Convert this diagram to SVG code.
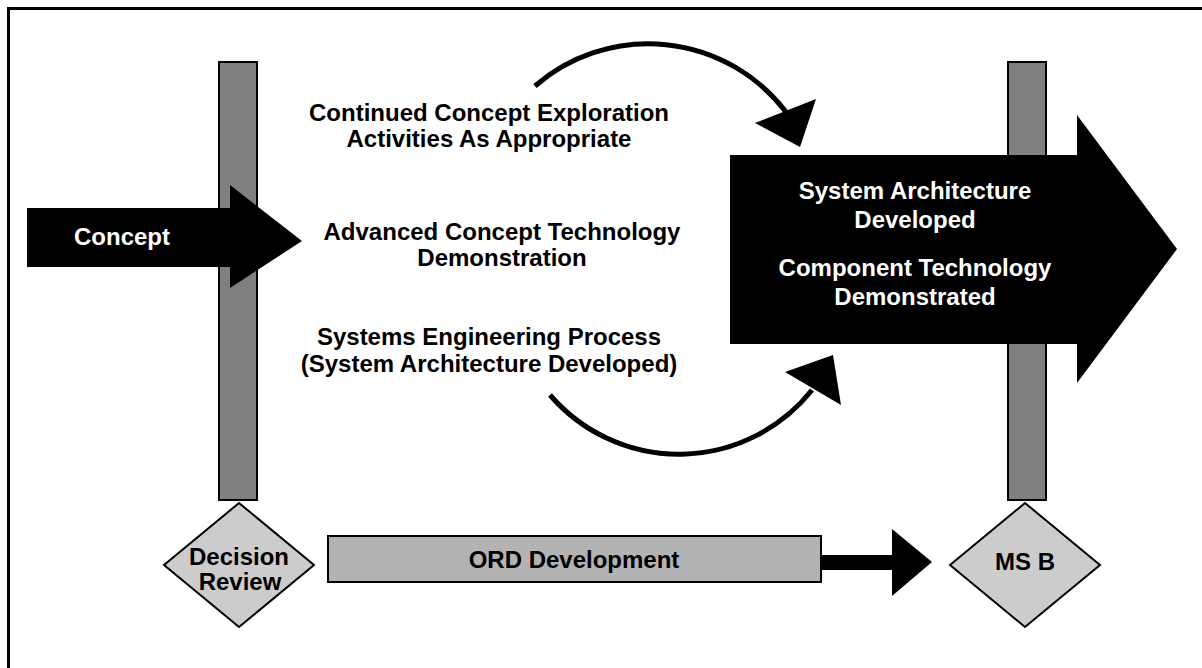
<svg xmlns="http://www.w3.org/2000/svg" width="1202" height="668" viewBox="0 0 1202 668">
  <style>
    text { font-family: "Liberation Sans", Arial, sans-serif; font-weight: bold; font-size: 24px; text-anchor: middle; }
    .dark { fill: #000000; }
    .light { fill: #ffffff; }
    .bar { fill: #808080; stroke: #000000; stroke-width: 2; }
    .diamond { fill: #cccccc; stroke: #000000; stroke-width: 2; }
    .ord { fill: #b3b3b3; stroke: #000000; stroke-width: 2; }
    .bigarrow { fill: #000000; stroke: none; }
    .arc { fill: none; stroke: #000000; stroke-width: 5; }
    .head { fill: #000000; stroke: none; }
  </style>
  <rect x="0" y="0" width="1202" height="668" fill="#ffffff"/>
  <rect id="frame" x="8.5" y="8.5" width="1300" height="800" fill="none" stroke="#000000" stroke-width="3"/>

  <g id="bar-left"><rect class="bar" x="219" y="62" width="38" height="438"/></g>
  <g id="bar-right"><rect class="bar" x="1008" y="62" width="38" height="438"/></g>

  <g id="concept">
    <polygon class="bigarrow" points="27,208 230,208 230,185 302,241 230,288 230,267 27,267"/>
    <text class="light" x="122" y="245">Concept</text>
  </g>

  <g id="result">
    <polygon class="bigarrow" points="730,155 1077,155 1077,115 1177,249 1077,383 1077,344 730,344"/>
    <text class="light" x="915" y="199">System Architecture</text>
    <text class="light" x="915" y="228">Developed</text>
    <text class="light" x="915" y="276">Component Technology</text>
    <text class="light" x="915" y="305">Demonstrated</text>
  </g>

  <g id="activity-exploration">
    <text class="dark" x="489" y="121">Continued Concept Exploration</text>
    <text class="dark" x="489" y="147">Activities As Appropriate</text>
  </g>
  <g id="activity-actd">
    <text class="dark" x="502" y="240">Advanced Concept Technology</text>
    <text class="dark" x="502" y="266">Demonstration</text>
  </g>
  <g id="activity-sep">
    <text class="dark" x="489" y="345">Systems Engineering Process</text>
    <text class="dark" x="489" y="372">(System Architecture Developed)</text>
  </g>

  <g id="decision-review">
    <polygon class="diamond" points="164,565 239,503 314,565 239,627"/>
    <text class="dark" x="239" y="565">Decision</text>
    <text class="dark" x="240" y="590">Review</text>
  </g>
  <g id="ms-b">
    <polygon class="diamond" points="950,565 1025,503 1100,565 1025,627"/>
    <text class="dark" x="1025" y="570">MS B</text>
  </g>
  <g id="ord-development">
    <rect class="ord" x="328" y="536" width="493" height="46"/>
    <text class="dark" x="574" y="568">ORD Development</text>
  </g>

  <g id="connectors">
    <path class="arc" d="M 535 86 A 173 173 0 0 1 786 112"/>
    <polygon class="head" points="755,123 816,99 800,147"/>
    <path class="arc" d="M 550 395 A 170 170 0 0 0 812 390"/>
    <polygon class="head" points="785,372 833,355 841,405"/>
    <rect class="head" x="821" y="555" width="72" height="15"/>
    <polygon class="head" points="892,529 932,562 892,596"/>
  </g>
</svg>
